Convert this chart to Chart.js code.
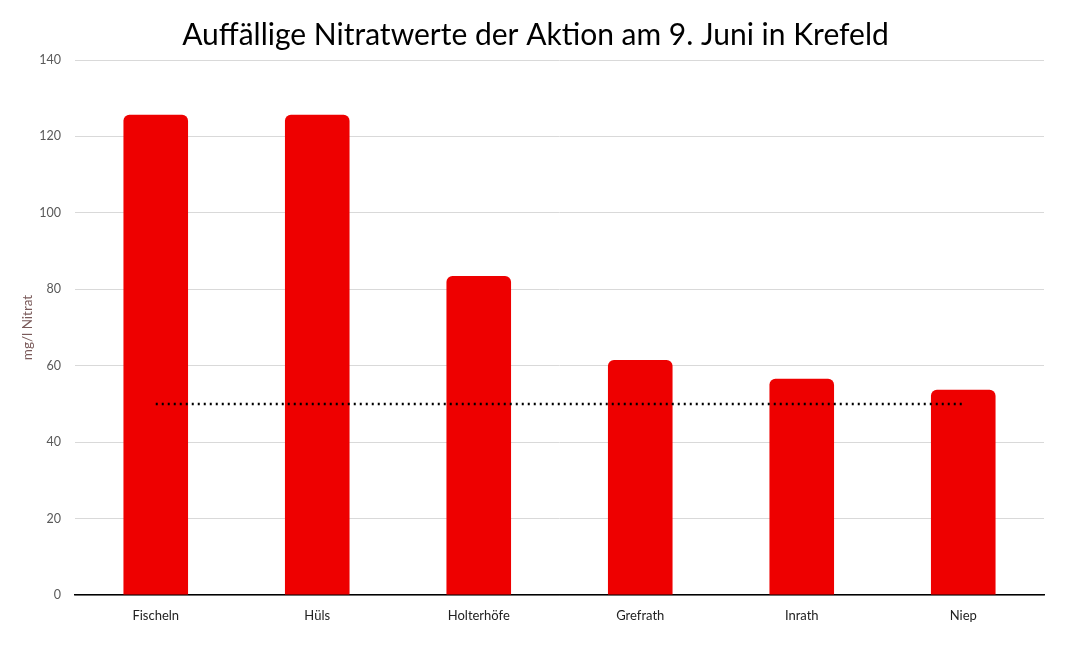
<!DOCTYPE html>
<html lang="de">
<head>
<meta charset="utf-8">
<title>Auffällige Nitratwerte</title>
<script src="https://cdn.jsdelivr.net/npm/chart.js@4/dist/chart.umd.min.js"></script>
<style>
  html, body { margin: 0; padding: 0; background: #fff; }
  #wrap { width: 1071px; height: 645px; }
</style>
</head>
<body>
<div id="wrap"><canvas id="chartNitrat" width="1071" height="645"></canvas></div>
<script>
// Werte (mg/l Nitrat)
const orte = ['Fischeln', 'Hüls', 'Holterhöfe', 'Grefrath', 'Inrath', 'Niep'];
const nitrat = [125.7, 125.7, 83.5, 61.5, 56.6, 53.7];
const grenzwert = [50, 50, 50, 50, 50, 50];
const yTicks = [0, 20, 40, 60, 80, 100, 120, 140];

const ctx = document.getElementById('chartNitrat').getContext('2d');

new Chart(ctx, {
  data: {
    labels: orte,
    datasets: [
      {
        type: 'line',
        label: 'Grenzwert',
        data: grenzwert,
        borderColor: '#000',
        borderWidth: 2.5,
        borderDash: [2, 4],
        pointRadius: 0,
        fill: false,
        order: 0
      },
      {
        type: 'bar',
        label: 'Nitrat',
        data: nitrat,
        backgroundColor: '#ee0000',
        borderRadius: { topLeft: 6, topRight: 6 },
        borderSkipped: 'bottom',
        barPercentage: 0.4,
        categoryPercentage: 1,
        order: 1
      }
    ]
  },
  options: {
    responsive: false,
    animation: false,
    devicePixelRatio: 1,
    layout: { padding: 0 },
    plugins: {
      legend: { display: false },
      tooltip: { enabled: false },
      title: {
        display: true,
        text: 'Auffällige Nitratwerte der Aktion am 9. Juni in Krefeld',
        color: '#000',
        font: { family: 'Lato', size: 30, weight: 'normal' },
        padding: { top: 17, bottom: 7 }
      }
    },
    scales: {
      x: {
        grid: { display: false },
        border: { display: true, color: '#000', width: 1.5 },
        ticks: {
          color: '#222',
          font: { family: 'Lato', size: 13 },
          padding: 5,
          maxRotation: 0
        },
        afterFit: s => { s.height = 50; }
      },
      y: {
        min: 0,
        max: 140,
        afterBuildTicks: s => { s.ticks = yTicks.map(v => ({ value: v })); },
        grid: { color: '#d9d9d9', lineWidth: 1, drawTicks: false },
        border: { display: false },
        ticks: {
          color: '#595959',
          font: { family: 'Lato', size: 12.5 },
          padding: 14
        },
        title: {
          display: true,
          text: 'mg/l Nitrat',
          color: '#7a5a5a',
          font: { family: 'Lato', size: 13.5 },
          padding: { top: 20, bottom: 0 }
        },
        afterFit: s => { s.width = 75; }
      },
      // leere rechte Achse als Rand, damit der Titel mittig bleibt
      rand: {
        position: 'right',
        display: true,
        grid: { display: false },
        border: { display: false },
        ticks: { display: false },
        afterFit: s => { s.width = 27; }
      }
    }
  }
});
</script>
</body>
</html>
